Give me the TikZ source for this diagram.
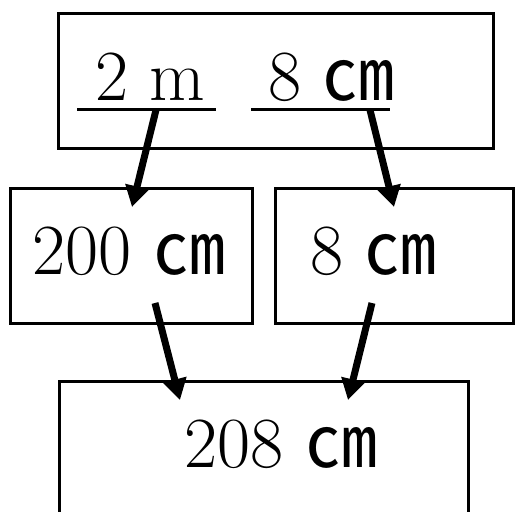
\documentclass[tikz,border=0pt]{standalone}
\usepackage{fontspec}
\newfontfamily\cjk{Noto Sans CJK JP}
\usetikzlibrary{arrows.meta}

\newcommand{\cmunit}{{\cjk ㎝}}
\tikzset{
  box/.style={draw, line width=3pt, minimum width=#1, minimum height=135pt, inner sep=0pt},
  num/.style={anchor=base west, inner sep=0pt, font=\fontsize{72}{80}\selectfont},
  arr/.style={line width=7pt, -{Triangle[width=23pt,length=21pt]}}
}

\begin{document}
\begin{tikzpicture}[x=1pt,y=-1pt]
\useasboundingbox (0,0) rectangle (515,512);
\clip (0,0) rectangle (515,512);
% boxes
\node[box=435pt] (top) at (275.5,80.5) {};
\node[box=242pt] (left) at (131,255.5) {};
\node[box=238pt] (right) at (394,255.5) {};
\node[box=409pt] (sum) at (263.5,448.5) {};
% texts
\node[num] (m) at (95,100) {2 m};
\node[num] (c) at (268,100) {8 \cmunit};
\node[num] (cl) at (32,274) {200 \cmunit};
\node[num] (cr) at (310,274) {8 \cmunit};
\node[num] (cs) at (184,467) {208 \cmunit};
% underlines
\draw[line width=3pt] (77,109) coordinate (ma) -- (216,109) coordinate (mb);
\draw[line width=3pt] (251,109) coordinate (ca) -- (390,109) coordinate (cb);
% arrow ends
\coordinate (s1) at (156,110); \coordinate (t1) at (132,207);
\coordinate (s2) at (370,110); \coordinate (t2) at (394,207);
\coordinate (s3) at (155,303); \coordinate (t3) at (180,400);
\coordinate (s4) at (372,303); \coordinate (t4) at (348,400);
\foreach \i in {1,2,3,4}
    \draw[arr] (s\i) -- (t\i);
\end{tikzpicture}
\end{document}
